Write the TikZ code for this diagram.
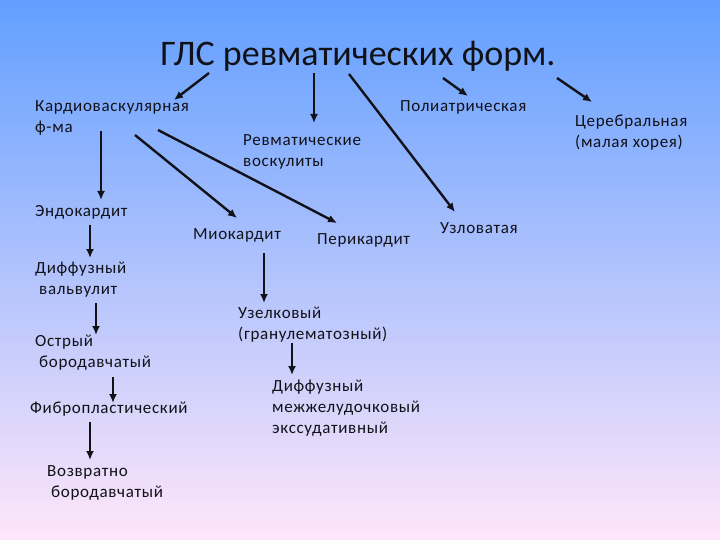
\documentclass[tikz,border=0pt]{standalone}
\usepackage{fontspec}
\setmainfont{Carlito}
\newfontfamily\cuerpo[LetterSpace=4]{Carlito}
\usetikzlibrary{arrows.meta,positioning,calc}
\definecolor{CieloArriba}{HTML}{629FFF}
\definecolor{CieloMedio}{HTML}{97C4F6}
\definecolor{RosaAbajo}{HTML}{FFE6FA}
\definecolor{Tinta}{HTML}{111118}

\begin{document}
\begin{tikzpicture}[x=1pt,y=-1pt,
    txt/.style={anchor=west,inner sep=0pt,align=left,text=Tinta,font=\cuerpo\fontsize{17}{21}\selectfont},
    arr/.style={-{Latex[length=9pt,width=8pt]},line width=2.4pt,Tinta}]
        \shade[top color=CieloArriba,middle color=CieloMedio,bottom color=RosaAbajo] (0,0) rectangle (720,540);
        \useasboundingbox (0,0) rectangle (720,540);
        \node[inner sep=0pt,text=Tinta,font=\fontsize{36}{44}\selectfont] (titulo) at (358,56) {ГЛС ревматических форм.};
        \node[txt] (cardio) at (35,118) {Кардиоваскулярная\\ф-ма};
        \node[txt] (vascul) at (243,151.5) {Ревматические\\воскулиты};
        \node[txt] (poliat) at (400,107) {Полиатрическая};
        \node[txt] (cereb) at (575,133) {Церебральная\\(малая хорея)};
        \node[txt] (endo) at (35,212) {Эндокардит};
        \node[txt] (mio) at (193,235) {Миокардит};
        \node[txt] (peri) at (317,240) {Перикардит};
        \node[txt] (uzlov) at (440,228) {Узловатая};
        \node[txt] (valv) at (35,279.5) {Диффузный\\\hspace{4pt}вальвулит};
        \node[txt] (ostr) at (35,352.5) {Острый\\\hspace{4pt}бородавчатый};
        \node[txt] (fibro) at (30,409) {Фибропластический};
        \node[txt] (vozv) at (47,482.5) {Возвратно\\\hspace{4pt}бородавчатый};
        \node[txt] (uzel) at (238,324.5) {Узелковый\\(гранулематозный)};
        \node[txt] (exsud) at (272,408.5) {Диффузный\\межжелудочковый\\экссудативный};
        \draw[arr] ([shift={(-149,17)}]titulo.center) -- ([shift={(139,-18)}]cardio.west);
        \draw[arr] ([shift={(-44,17)}]titulo.center) -- ([shift={(71,-28.5)}]vascul.west);
        \draw[arr] ([shift={(-9,18)}]titulo.center) -- ([shift={(15,-16)}]uzlov.west);
        \draw[arr] ([shift={(85,22)}]titulo.center) -- ([shift={(68,-11)}]poliat.west);
        \draw[arr] ([shift={(199,22)}]titulo.center) -- ([shift={(17,-31)}]cereb.west);
        \draw[arr] ([shift={(66,13)}]cardio.west) -- ([shift={(66,-12)}]endo.west);
        \draw[arr] ([shift={(100,17)}]cardio.west) -- ([shift={(44,-17)}]mio.west);
        \draw[arr] ([shift={(123,12)}]cardio.west) -- ([shift={(20,-17)}]peri.west);
        \draw[arr] ([shift={(55,13)}]endo.west) -- ([shift={(55,-21.5)}]valv.west);
        \draw[arr] ([shift={(61,23.5)}]valv.west) -- ([shift={(61,-17.5)}]ostr.west);
        \draw[arr] ([shift={(78,24.5)}]ostr.west) -- ([shift={(83,-6)}]fibro.west);
        \draw[arr] ([shift={(60,13)}]fibro.west) -- ([shift={(43,-22.5)}]vozv.west);
        \draw[arr] ([shift={(71,18)}]mio.west) -- ([shift={(26,-21.5)}]uzel.west);
        \draw[arr] ([shift={(54,18.5)}]uzel.west) -- ([shift={(20,-33.5)}]exsud.west);
      \end{tikzpicture}
\end{document}
